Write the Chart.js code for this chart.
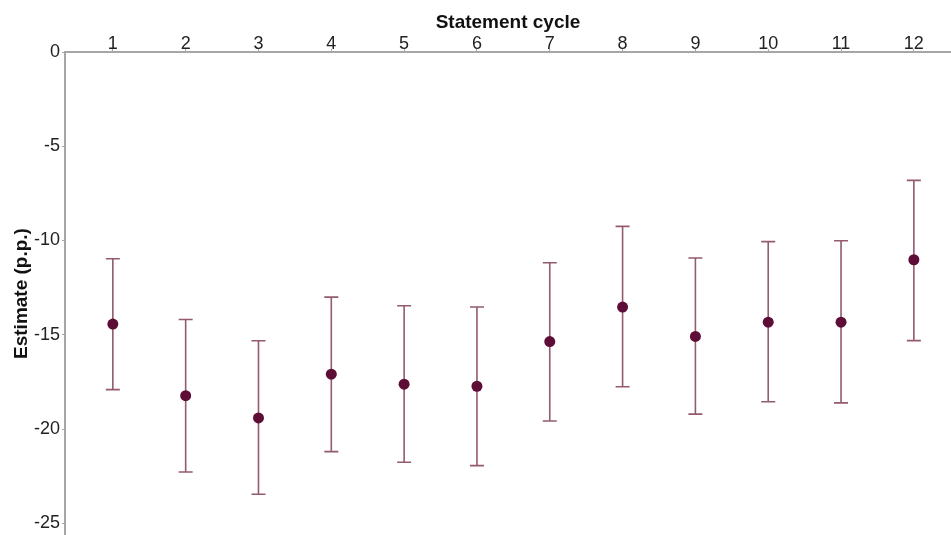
<!DOCTYPE html>
<html>
<head>
<meta charset="utf-8">
<script src="https://cdn.jsdelivr.net/npm/chart.js@4"></script>
<style>
  html, body { margin: 0; padding: 0; background: #ffffff; }
  #wrap { width: 951px; height: 535px; }
</style>
</head>
<body>
<div id="wrap"><canvas id="c" width="951" height="535"></canvas></div>
<script>
const cycles = [1, 2, 3, 4, 5, 6, 7, 8, 9, 10, 11, 12];
const estimates = [-14.43, -18.23, -19.41, -17.09, -17.62, -17.73, -15.36, -13.53, -15.09, -14.33, -14.33, -11.02];
const upperCI = [-10.97, -14.19, -15.32, -13.00, -13.46, -13.53, -11.18, -9.25, -10.93, -10.06, -10.01, -6.81];
const lowerCI = [-17.91, -22.28, -23.46, -21.20, -21.76, -21.94, -19.57, -17.76, -19.21, -18.55, -18.61, -15.31];
const yTicks = [0, -5, -10, -15, -20, -25];

const POINT_COLOR = '#5e0d36';
const BAR_COLOR = '#935a70';
const AXIS_COLOR = '#a6a6a6';
const FONT = "'Liberation Sans', Arial, Helvetica, sans-serif";

const errorBars = {
  id: 'errorBars',
  beforeDatasetsDraw(chart) {
    const ctx = chart.ctx;
    const xs = chart.scales.x, ys = chart.scales.y;
    ctx.save();
    ctx.strokeStyle = BAR_COLOR;
    ctx.lineWidth = 1.6;
    const cap = 7;
    cycles.forEach((c, i) => {
      const x = xs.getPixelForValue(c);
      const yHi = ys.getPixelForValue(upperCI[i]);
      const yLo = ys.getPixelForValue(lowerCI[i]);
      ctx.beginPath();
      ctx.moveTo(x, yHi); ctx.lineTo(x, yLo);
      ctx.moveTo(x - cap, yHi); ctx.lineTo(x + cap, yHi);
      ctx.moveTo(x - cap, yLo); ctx.lineTo(x + cap, yLo);
      ctx.stroke();
    });
    ctx.restore();
  }
};

new Chart(document.getElementById('c'), {
  type: 'scatter',
  data: {
    datasets: [{
      label: 'Estimate',
      data: cycles.map((c, i) => ({ x: c, y: estimates[i] })),
      backgroundColor: POINT_COLOR,
      borderColor: POINT_COLOR,
      pointRadius: 5.5,
      pointBorderWidth: 0
    }]
  },
  options: {
    responsive: false,
    animation: false,
    layout: { padding: 0, autoPadding: false },
    plugins: { legend: { display: false }, tooltip: { enabled: false } },
    scales: {
      x: {
        type: 'linear',
        position: 'top',
        min: 0.343,
        max: 12.51,
        afterBuildTicks: s => { s.ticks = cycles.map(v => ({ value: v })); },
        afterFit: s => { s.height = 52; s.paddingLeft = 0; s.paddingRight = 0; },
        grid: { display: true, drawOnChartArea: false, tickLength: 3, color: AXIS_COLOR, lineWidth: 1 },
        border: { display: true, color: AXIS_COLOR, width: 2 },
        ticks: { color: '#222222', font: { family: FONT, size: 18 }, padding: -6, maxRotation: 0, autoSkip: false },
        title: { display: true, text: 'Statement cycle', color: '#111111', font: { family: FONT, size: 19, weight: 'bold' }, padding: { top: 11, bottom: 0 } }
      },
      y: {
        type: 'linear',
        min: -25.62,
        max: 0,
        afterBuildTicks: s => { s.ticks = yTicks.map(v => ({ value: v })); },
        afterFit: s => { s.width = 65; s.paddingTop = 0; s.paddingBottom = 0; },
        grid: { display: true, drawOnChartArea: false, tickLength: 3, color: AXIS_COLOR, lineWidth: 1 },
        border: { display: true, color: AXIS_COLOR, width: 2 },
        ticks: { color: '#222222', font: { family: FONT, size: 18 }, padding: 2 },
        title: { display: true, text: 'Estimate (p.p.)', color: '#111111', font: { family: FONT, size: 19, weight: 'bold' }, padding: { top: 10, bottom: 0 } }
      }
    }
  },
  plugins: [errorBars]
});
</script>
</body>
</html>
